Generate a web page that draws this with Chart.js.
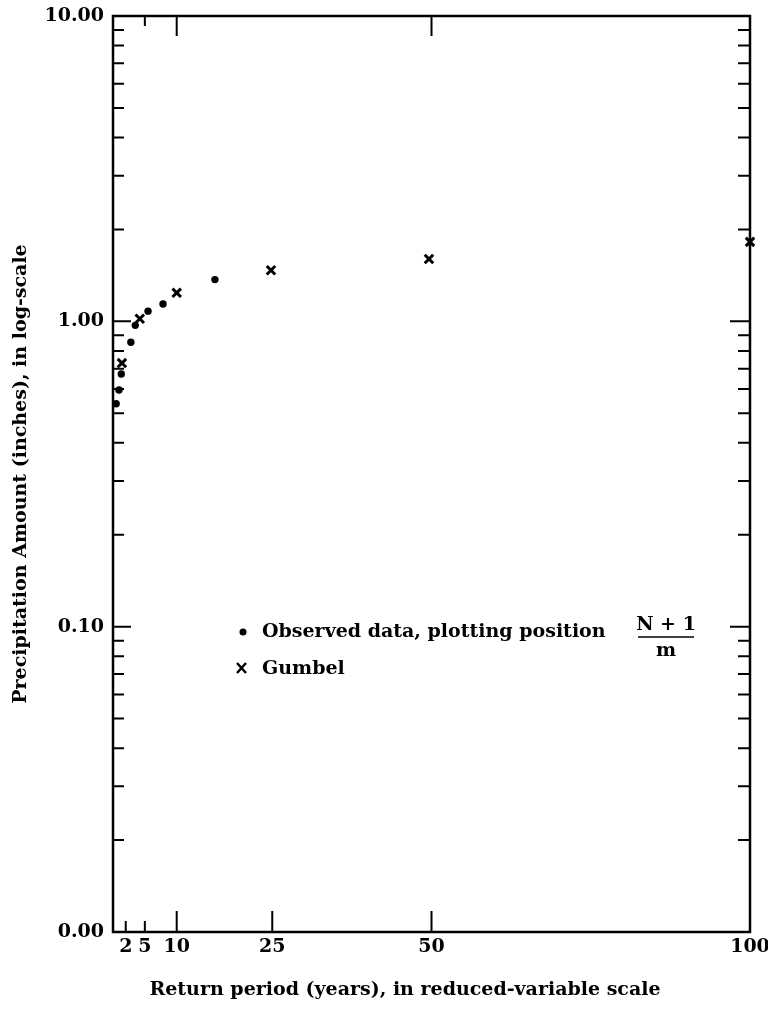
<!DOCTYPE html>
<html>
<head>
<meta charset="utf-8">
<script src="https://cdn.jsdelivr.net/npm/chart.js"></script>
<style>
  body { margin: 0; background: #fff; }
  #wrap { width: 768px; height: 1011px; }
</style>
</head>
<body>
<div id="wrap"><canvas id="chart" width="768" height="1011"></canvas></div>
<script>
// return period (years) vs precipitation (inches)
const obsPeriod = [16.0, 7.85, 5.5, 3.5, 2.8, 1.3, 0.94, 0.5];
const obsAmount = [1.37, 1.14, 1.08, 0.97, 0.854, 0.672, 0.596, 0.537];

const gumbelPeriod = [1.4, 4.2, 10.0, 24.8, 49.6, 100];
const gumbelAmount = [0.73, 1.02, 1.24, 1.47, 1.60, 1.82];

const xTicks = [2, 5, 10, 25, 50, 100];
const xLongTicks = [10, 25, 50];
const topTicks = [5, 10, 50];
const yTicks = [0.01, 0.1, 1, 10];
const yTickLabels = ['0.00', '0.10', '1.00', '10.00'];
const minorSteps = [2, 3, 4, 5, 6, 7, 8, 9];

const FONT = "'DejaVu Serif', serif";
const FS = 19;

// axis frame + inward tick marks
const framePlugin = {
  id: 'frame',
  beforeDatasetsDraw(chart) {
    const { ctx, chartArea: a } = chart;
    const xs = chart.scales.x, ys = chart.scales.y;
    ctx.save();
    ctx.strokeStyle = '#000';
    ctx.lineWidth = 2.5;
    ctx.strokeRect(a.left, a.top, a.right - a.left, a.bottom - a.top);

    ctx.lineWidth = 2;
    ctx.beginPath();
    xTicks.forEach(v => {
      const px = xs.getPixelForValue(v);
      const len = xLongTicks.includes(v) ? 21 : 11;
      ctx.moveTo(px, a.bottom);
      ctx.lineTo(px, a.bottom - len);
    });
    topTicks.forEach(v => {
      const px = xs.getPixelForValue(v);
      const len = v === 5 ? 10 : 20;
      ctx.moveTo(px, a.top);
      ctx.lineTo(px, a.top + len);
    });
    yTicks.forEach((d, i) => {
      if (i === yTicks.length - 1) return;
      const py = ys.getPixelForValue(d);
      ctx.moveTo(a.left, py); ctx.lineTo(a.left + 18, py);
      ctx.moveTo(a.right, py); ctx.lineTo(a.right - 20, py);
      minorSteps.forEach(s => {
        const my = ys.getPixelForValue(d * s);
        ctx.moveTo(a.left, my); ctx.lineTo(a.left + 11, my);
        ctx.moveTo(a.right, my); ctx.lineTo(a.right - 12, my);
      });
    });
    ctx.stroke();
    ctx.restore();
  },
  afterDraw(chart) {
    const { ctx } = chart;
    ctx.save();
    ctx.fillStyle = '#000';
    ctx.strokeStyle = '#000';
    ctx.font = 'bold ' + FS + 'px ' + FONT;
    ctx.textBaseline = 'middle';

    // legend
    ctx.beginPath();
    ctx.arc(243, 632, 3.5, 0, Math.PI * 2);
    ctx.fill();
    ctx.textAlign = 'left';
    ctx.fillText('Observed data, plotting position', 262, 632);
    ctx.textAlign = 'center';
    ctx.fillText('N + 1', 666, 625);
    ctx.lineWidth = 1.5;
    ctx.beginPath();
    ctx.moveTo(638, 637); ctx.lineTo(694, 637);
    ctx.stroke();
    ctx.fillText('m', 666, 651);

    ctx.lineWidth = 2.5;
    ctx.beginPath();
    ctx.moveTo(237, 663); ctx.lineTo(246, 673);
    ctx.moveTo(246, 663); ctx.lineTo(237, 673);
    ctx.stroke();
    ctx.textAlign = 'left';
    ctx.fillText('Gumbel', 262, 669);

    // x axis title
    ctx.textAlign = 'center';
    ctx.fillText('Return period (years), in reduced-variable scale', 405, 990);
    ctx.restore();
  }
};

new Chart(document.getElementById('chart'), {
  type: 'scatter',
  data: {
    datasets: [
      {
        label: 'Observed data',
        data: obsPeriod.map((x, i) => ({ x, y: obsAmount[i] })),
        pointStyle: 'circle',
        pointRadius: 3.7,
        backgroundColor: '#000',
        borderColor: '#000',
        borderWidth: 0
      },
      {
        label: 'Gumbel',
        data: gumbelPeriod.map((x, i) => ({ x, y: gumbelAmount[i] })),
        pointStyle: 'crossRot',
        pointRadius: 6,
        borderColor: '#000',
        borderWidth: 3
      }
    ]
  },
  options: {
    responsive: false,
    animation: false,
    clip: false,
    layout: { padding: { top: 16, right: 18, left: 0, bottom: 0 } },
    plugins: { legend: { display: false }, tooltip: { enabled: false } },
    scales: {
      x: {
        type: 'linear',
        min: 0,
        max: 100,
        grid: { display: false, drawTicks: false },
        border: { display: false },
        afterBuildTicks: s => { s.ticks = xTicks.map(v => ({ value: v })); },
        afterFit: s => { s.height = 79; s.paddingLeft = 0; s.paddingRight = 0; },
        ticks: {
          color: '#000',
          padding: 4,
          maxRotation: 0,
          autoSkip: false,
          font: { family: FONT, size: FS, weight: 'bold' }
        }
      },
      y: {
        type: 'logarithmic',
        min: 0.01,
        max: 10,
        grid: { display: false, drawTicks: false },
        border: { display: false },
        afterBuildTicks: s => { s.ticks = yTicks.map(v => ({ value: v })); },
        afterFit: s => { s.width = 113; s.paddingTop = 0; s.paddingBottom = 0; },
        ticks: {
          color: '#000',
          padding: 9,
          autoSkip: false,
          font: { family: FONT, size: FS, weight: 'bold' },
          callback: v => yTickLabels[yTicks.indexOf(v)]
        },
        title: {
          display: true,
          text: 'Precipitation Amount (inches), in log-scale',
          color: '#000',
          padding: { top: 10, bottom: 0 },
          font: { family: FONT, size: FS, weight: 'bold' }
        }
      }
    }
  },
  plugins: [framePlugin]
});
</script>
</body>
</html>
